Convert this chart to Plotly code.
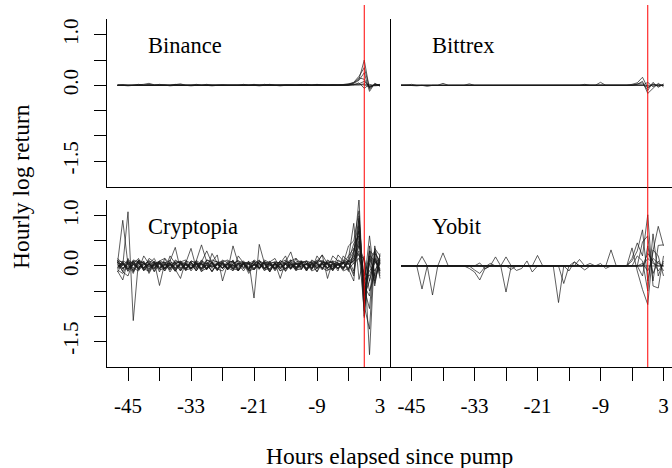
import plotly.graph_objects as go

# ---------------- data ----------------
hours = [-47, -46, -45, -44, -43, -42, -41, -40, -39, -38,
         -37, -36, -35, -34, -33, -32, -31, -30, -29, -28,
         -27, -26, -25, -24, -23, -22, -21, -20, -19, -18,
         -17, -16, -15, -14, -13, -12, -11, -10, -9, -8,
         -7, -6, -5, -4, -3, -2, -1, 0, 1, 2, 3]

x_tick_vals = [-45, -39, -33, -27, -21, -15, -9, -3, 3]
x_tick_text = ["-45", "", "-33", "", "-21", "", "-9", "", "3"]
y_tick_vals = [-1.5, -1.0, -0.5, 0.0, 0.5, 1.0]
y_tick_text = ["-1.5", "", "", "0.0", "", "1.0"]

pump_hour = [0]

binance = [
    [0.00, 0.01, 0.00, 0.00, 0.01, 0.02, 0.04, 0.01, 0.00, 0.00,
     0.00, 0.01, 0.03, 0.00, -0.01, 0.00, 0.00, 0.01, 0.00, 0.00,
     0.00, 0.01, 0.00, 0.00, 0.02, 0.00, 0.00, -0.01, 0.00, 0.00,
     0.01, 0.00, 0.00, 0.00, 0.01, 0.00, 0.00, 0.00, 0.02, 0.00,
     0.00, 0.01, 0.00, 0.02, 0.03, 0.05, 0.12, 0.50, -0.08, 0.03, 0.00],
    [0.01, 0.00, -0.01, 0.00, 0.00, 0.01, 0.00, 0.00, 0.02, 0.00,
     -0.01, 0.00, 0.01, 0.00, 0.00, 0.02, 0.00, 0.00, -0.01, 0.00,
     0.01, 0.00, 0.00, 0.01, 0.00, 0.00, 0.02, 0.00, 0.00, 0.01,
     0.00, -0.01, 0.00, 0.01, 0.00, 0.00, 0.02, 0.00, 0.00, 0.01,
     0.00, 0.00, 0.01, 0.00, 0.02, 0.06, 0.18, 0.35, -0.05, 0.02, 0.01],
    [0.00, 0.00, 0.01, 0.00, 0.00, 0.00, 0.02, 0.00, 0.00, 0.01,
     0.00, 0.00, 0.00, 0.01, 0.00, 0.00, 0.00, 0.02, 0.00, 0.00,
     0.00, 0.00, 0.01, 0.00, 0.00, 0.01, 0.00, 0.00, 0.00, 0.02,
     0.00, 0.00, 0.01, 0.00, 0.00, 0.00, 0.01, 0.00, 0.00, 0.00,
     0.01, 0.00, 0.00, 0.01, 0.00, 0.04, 0.10, 0.25, -0.12, 0.04, -0.02],
    [0.00, 0.01, 0.00, 0.00, 0.02, 0.00, 0.00, 0.00, 0.01, 0.00,
     0.00, 0.02, 0.00, 0.00, 0.00, 0.01, 0.00, 0.00, 0.01, 0.00,
     0.00, 0.00, 0.01, 0.00, 0.00, 0.00, 0.01, 0.00, 0.02, 0.00,
     0.00, 0.00, 0.01, 0.00, 0.00, 0.02, 0.00, 0.00, 0.01, 0.00,
     0.00, 0.00, 0.00, 0.01, 0.01, 0.05, 0.15, 0.12, -0.04, 0.00, 0.02],
    [0.00, 0.00, 0.00, 0.01, 0.00, 0.00, 0.00, 0.00, 0.00, 0.01,
     0.00, 0.00, 0.00, 0.00, 0.01, 0.00, 0.00, 0.00, 0.00, 0.00,
     0.01, 0.00, 0.00, 0.00, 0.00, 0.00, 0.00, 0.01, 0.00, 0.00,
     0.00, 0.00, 0.00, 0.00, 0.01, 0.00, 0.00, 0.00, 0.00, 0.00,
     0.00, 0.01, 0.00, 0.00, 0.00, 0.02, 0.03, 0.08, -0.02, 0.01, 0.00],
    [0.00, 0.00, 0.00, 0.00, 0.00, 0.00, 0.00, 0.00, 0.00, 0.00,
     0.00, 0.00, 0.00, 0.00, 0.00, 0.00, 0.00, 0.00, 0.00, 0.00,
     0.00, 0.00, 0.00, 0.00, 0.00, 0.00, 0.00, 0.00, 0.00, 0.00,
     0.00, 0.00, 0.00, 0.00, 0.00, 0.00, 0.00, 0.00, 0.00, 0.00,
     0.00, 0.00, 0.00, 0.00, 0.00, 0.01, 0.05, -0.06, 0.02, -0.01, 0.00],
    [0.00, 0.00, 0.00, 0.00, 0.00, 0.00, 0.00, 0.00, 0.00, 0.00,
     0.00, 0.00, 0.00, 0.00, 0.00, 0.00, 0.00, 0.00, 0.00, 0.00,
     0.00, 0.00, 0.00, 0.00, 0.00, 0.00, 0.00, 0.00, 0.00, 0.00,
     0.00, 0.00, 0.00, 0.00, 0.00, 0.00, 0.00, 0.00, 0.00, 0.00,
     0.00, 0.00, 0.00, 0.00, 0.00, 0.00, 0.01, 0.03, 0.00, 0.00, 0.00],
    [0.00, 0.00, 0.00, 0.00, 0.00, 0.00, 0.00, 0.00, 0.00, 0.00,
     0.00, 0.00, 0.00, 0.00, 0.00, 0.00, 0.00, 0.00, 0.00, 0.00,
     0.00, 0.00, 0.00, 0.00, 0.00, 0.00, 0.00, 0.00, 0.00, 0.00,
     0.00, 0.00, 0.00, 0.00, 0.00, 0.00, 0.00, 0.00, 0.00, 0.00,
     0.00, 0.00, 0.00, 0.00, 0.00, 0.00, 0.00, 0.01, -0.03, 0.01, 0.00],
]

bittrex = [
    [0.00, 0.00, 0.02, 0.00, 0.00, -0.02, 0.00, 0.00, 0.04, 0.00,
     0.00, 0.00, 0.00, 0.03, 0.00, 0.00, 0.00, 0.00, 0.00, 0.01,
     0.00, 0.00, 0.00, 0.00, 0.00, 0.00, 0.01, 0.00, 0.00, 0.00,
     0.00, 0.00, 0.00, 0.00, 0.00, 0.02, 0.00, 0.00, 0.06, 0.00,
     0.00, 0.00, 0.00, 0.00, 0.02, 0.05, 0.16, -0.05, 0.03, -0.02, 0.01],
    [0.01, 0.00, 0.00, -0.01, 0.00, 0.00, 0.01, 0.00, 0.00, 0.00,
     0.01, 0.00, 0.00, 0.00, 0.00, 0.01, 0.00, 0.00, 0.00, 0.00,
     0.00, 0.01, 0.00, 0.00, 0.00, 0.00, 0.00, 0.00, 0.01, 0.00,
     0.00, 0.00, 0.00, 0.01, 0.00, 0.00, 0.00, 0.00, 0.00, 0.01,
     0.00, 0.00, 0.00, 0.01, 0.00, 0.02, 0.08, -0.16, -0.05, 0.04, -0.03],
    [0.00, 0.01, 0.00, 0.00, 0.00, 0.00, 0.00, 0.01, 0.00, 0.00,
     0.00, 0.00, 0.00, 0.00, 0.01, 0.00, 0.00, 0.00, 0.00, 0.00,
     0.00, 0.00, 0.01, 0.00, 0.00, 0.00, 0.00, 0.00, 0.00, 0.00,
     0.01, 0.00, 0.00, 0.00, 0.00, 0.00, 0.00, 0.00, 0.00, 0.00,
     0.00, 0.01, 0.00, 0.00, 0.00, 0.03, 0.05, -0.10, 0.06, -0.04, 0.03],
    [0.00, 0.00, 0.00, 0.00, 0.00, 0.00, 0.00, 0.00, 0.00, 0.00,
     0.00, 0.00, 0.00, 0.00, 0.00, 0.00, 0.00, 0.00, 0.00, 0.00,
     0.00, 0.00, 0.00, 0.00, 0.00, 0.00, 0.00, 0.00, 0.00, 0.00,
     0.00, 0.00, 0.00, 0.00, 0.00, 0.00, 0.00, 0.00, 0.00, 0.00,
     0.00, 0.00, 0.00, 0.00, 0.00, 0.00, 0.00, 0.06, -0.03, 0.02, 0.00],
    [0.00, 0.00, 0.00, 0.00, 0.00, 0.00, 0.00, 0.00, 0.00, 0.00,
     0.00, 0.00, 0.00, 0.00, 0.00, 0.00, 0.00, 0.00, 0.00, 0.00,
     0.00, 0.00, 0.00, 0.00, 0.00, 0.00, 0.00, 0.00, 0.00, 0.00,
     0.00, 0.00, 0.00, 0.00, 0.00, 0.00, 0.00, 0.00, 0.00, 0.00,
     0.00, 0.00, 0.00, 0.00, 0.00, 0.00, 0.01, -0.04, 0.02, 0.00, 0.00],
    [0.00, 0.00, 0.00, 0.00, 0.00, 0.00, 0.00, 0.00, 0.00, 0.00,
     0.00, 0.00, 0.00, 0.00, 0.00, 0.00, 0.00, 0.00, 0.00, 0.00,
     0.00, 0.00, 0.00, 0.00, 0.00, 0.00, 0.00, 0.00, 0.00, 0.00,
     0.00, 0.00, 0.00, 0.00, 0.00, 0.00, 0.00, 0.00, 0.00, 0.00,
     0.00, 0.00, 0.00, 0.00, 0.00, 0.00, 0.00, 0.00, 0.00, 0.00, 0.00],
]

cryptopia = [
    [0.05, 0.91, 0.02, -0.08, 0.06, -0.04, 0.03, 0.08, -0.05, 0.02,
     0.06, -0.03, 0.04, -0.06, 0.05, 0.02, -0.04, 0.07, -0.02, 0.03,
     -0.05, 0.04, 0.02, -0.03, 0.06, -0.04, 0.03, 0.05, -0.06, 0.02,
     0.04, -0.03, 0.05, -0.02, 0.03, 0.06, -0.04, 0.02, 0.05, -0.03,
     0.04, 0.02, -0.05, 0.06, 0.10, 0.30, 0.70, -0.60, -0.30, 0.15, -0.08],
    [0.10, 0.00, 1.08, -1.09, 0.10, 0.05, -0.06, 0.03, 0.08, -0.04,
     0.02, 0.07, -0.05, 0.04, -0.03, 0.06, 0.02, -0.07, 0.05, 0.03,
     -0.04, 0.06, -0.02, 0.05, 0.03, -0.06, 0.04, -0.03, 0.07, 0.02,
     -0.05, 0.03, 0.06, -0.04, 0.05, -0.02, 0.04, 0.07, -0.03, 0.05,
     -0.04, 0.06, 0.03, -0.05, 0.08, 0.20, 1.35, -1.03, 0.30, -0.20, 0.10],
    [-0.10, -0.28, 0.12, 0.05, -0.08, 0.20, 0.04, -0.06, 0.10, 0.15,
     -0.05, 0.08, -0.10, 0.06, 0.35, -0.04, 0.12, -0.06, 0.08, 0.22,
     -0.30, 0.05, 0.10, -0.08, 0.06, -0.15, 0.04, 0.12, -0.05, 0.08,
     0.15, -0.06, 0.10, 0.04, -0.08, 0.06, 0.10, -0.05, 0.08, 0.22,
     -0.25, 0.10, 0.06, -0.04, 0.15, 0.85, -0.27, 0.20, -1.77, 0.35, 0.20],
    [0.08, -0.12, -0.20, 0.10, 0.06, -0.05, 0.15, 0.08, -0.39, 0.06,
     0.10, 0.37, -0.08, 0.05, -0.06, 0.10, 0.42, 0.08, -0.05, 0.06,
     0.10, -0.08, 0.40, 0.05, -0.06, 0.10, -0.64, 0.43, 0.05, -0.08,
     0.06, -0.25, 0.08, 0.28, -0.05, 0.06, 0.10, -0.08, 0.20, 0.05,
     -0.06, 0.20, 0.10, 0.05, 0.40, 0.50, 1.10, -0.80, -1.26, 0.40, -0.15],
    [0.15, 0.05, -0.10, 0.08, -0.06, 0.10, -0.12, 0.05, 0.08, -0.05,
     0.12, -0.08, -0.25, 0.10, 0.06, -0.10, 0.08, 0.30, 0.05, -0.08,
     0.12, 0.06, -0.10, 0.20, 0.05, -0.08, 0.10, -0.05, 0.12, 0.06,
     -0.10, 0.05, 0.20, -0.06, 0.15, 0.05, -0.08, 0.10, 0.06, 0.22,
     0.05, -0.08, 0.22, 0.10, -0.06, -0.30, 0.90, -0.40, -0.60, 0.25, 0.10],
    [-0.05, 0.10, 0.05, -0.15, 0.12, -0.08, 0.06, -0.10, 0.05, 0.08,
     -0.12, 0.05, 0.10, -0.06, 0.08, -0.10, 0.05, -0.08, 0.25, 0.06,
     -0.05, 0.10, 0.08, -0.10, 0.06, 0.05, -0.08, 0.10, -0.06, 0.05,
     0.08, -0.10, 0.05, 0.12, -0.06, 0.08, -0.10, 0.05, 0.10, -0.06,
     0.12, 0.05, -0.10, 0.20, 0.08, 0.15, 0.50, -0.20, 0.20, -0.40, 0.25],
    [0.02, -0.06, 0.08, 0.04, -0.03, 0.05, -0.02, 0.06, -0.04, 0.03,
     0.05, -0.06, 0.02, 0.04, -0.05, 0.03, 0.06, -0.03, 0.02, -0.05,
     0.04, 0.02, -0.06, 0.05, -0.02, 0.03, 0.06, -0.04, 0.02, 0.05,
     -0.03, 0.04, -0.06, 0.02, 0.05, -0.03, 0.04, 0.02, -0.05, 0.03,
     0.05, -0.02, 0.04, 0.06, 0.03, 0.10, 0.30, -0.90, 0.10, 0.30, -0.25],
    [-0.12, 0.06, -0.08, 0.10, -0.05, 0.04, 0.08, -0.12, 0.05, -0.06,
     0.08, 0.04, -0.10, 0.06, -0.05, 0.08, -0.12, 0.05, 0.06, -0.08,
     0.05, -0.06, 0.08, 0.04, -0.10, 0.06, -0.05, 0.08, 0.04, -0.12,
     0.06, -0.05, 0.04, 0.08, -0.06, 0.05, -0.10, 0.06, 0.04, -0.05,
     0.08, -0.06, 0.05, -0.08, 0.12, -0.10, 0.60, -0.50, 0.05, -0.30, 0.08],
    [0.06, 0.04, -0.05, 0.12, 0.08, -0.10, 0.05, 0.15, -0.06, 0.08,
     -0.05, 0.10, 0.06, -0.08, 0.10, 0.05, -0.06, 0.12, 0.08, -0.05,
     0.06, -0.08, 0.05, 0.10, 0.06, -0.05, 0.08, 0.06, -0.10, 0.05,
     0.08, 0.06, -0.05, 0.10, 0.15, -0.06, 0.05, 0.08, -0.05, 0.10,
     0.06, 0.08, -0.05, 0.05, 0.20, 0.35, 0.20, 0.15, -0.30, 0.10, -0.10],
    [-0.08, -0.15, 0.06, -0.05, 0.10, -0.06, -0.10, 0.05, -0.08, -0.05,
     0.06, -0.10, 0.05, -0.08, -0.05, 0.06, -0.10, -0.05, 0.08, -0.06,
     -0.10, 0.05, -0.06, -0.08, 0.05, -0.10, -0.06, 0.05, -0.08, -0.05,
     0.06, -0.10, -0.05, 0.05, -0.08, -0.06, 0.05, -0.10, -0.05, 0.06,
     -0.08, -0.05, 0.06, -0.10, -0.05, 0.05, 0.80, -0.70, 0.20, 0.10, -0.05],
    [0.10, 0.08, -0.06, 0.05, 0.15, -0.05, 0.10, 0.06, 0.05, -0.10,
     0.20, 0.05, 0.08, -0.05, 0.10, 0.06, -0.08, 0.05, 0.12, 0.08,
     -0.05, 0.06, 0.10, -0.06, 0.08, 0.05, 0.10, -0.05, 0.06, 0.08,
     -0.06, 0.10, 0.05, 0.08, -0.05, 0.10, 0.06, -0.05, 0.12, 0.08,
     0.05, 0.10, -0.06, 0.08, 0.05, -0.15, 0.45, -0.30, -0.10, 0.05, 0.15],
    [0.00, 0.03, -0.02, 0.02, 0.00, -0.03, 0.02, 0.01, -0.02, 0.03,
     0.00, 0.02, -0.03, 0.01, 0.02, -0.02, 0.03, 0.00, -0.02, 0.02,
     0.01, -0.03, 0.02, 0.00, 0.03, -0.02, 0.01, 0.02, -0.03, 0.00,
     0.02, -0.02, 0.03, 0.01, -0.02, 0.00, 0.03, -0.02, 0.01, 0.02,
     -0.03, 0.00, 0.02, -0.02, 0.05, 0.10, 0.25, -0.35, 0.60, -0.25, 0.05],
    [0.04, -0.10, 0.15, -0.12, 0.06, 0.08, -0.15, 0.04, 0.10, 0.06,
     -0.08, 0.12, 0.05, -0.10, 0.08, -0.06, 0.10, 0.05, -0.12, 0.06,
     0.08, -0.05, 0.12, -0.10, 0.05, 0.08, -0.06, 0.10, 0.05, -0.12,
     0.08, 0.06, -0.10, 0.12, 0.05, -0.08, 0.10, 0.06, -0.12, 0.08,
     0.05, -0.10, 0.12, 0.06, -0.08, 0.25, 0.70, -1.00, 0.30, 0.20, -0.20],
    [-0.02, 0.05, -0.06, 0.03, -0.04, 0.06, -0.03, 0.02, 0.05, -0.04,
     0.03, -0.05, 0.06, 0.02, -0.04, 0.03, 0.05, -0.06, 0.02, 0.04,
     -0.03, 0.05, -0.04, 0.06, 0.02, -0.05, 0.03, -0.04, 0.05, 0.02,
     -0.06, 0.04, 0.03, -0.05, 0.06, 0.02, -0.04, 0.05, -0.03, 0.04,
     0.02, -0.05, 0.03, 0.05, -0.04, 0.15, 0.40, 0.10, -0.50, -0.15, 0.20],
    [0.12, -0.06, 0.08, -0.10, 0.12, 0.06, -0.08, 0.10, -0.12, 0.15,
     0.05, -0.10, 0.08, 0.12, -0.06, 0.10, -0.05, 0.12, 0.06, -0.10,
     0.08, 0.12, -0.06, 0.05, 0.10, -0.08, 0.12, 0.05, -0.06, 0.10,
     -0.08, 0.06, 0.12, -0.05, 0.08, 0.10, -0.06, 0.12, 0.05, -0.08,
     0.10, 0.06, -0.05, 0.12, 0.06, -0.20, 1.00, -0.60, 0.15, -0.10, 0.12],
    [-0.06, 0.02, 0.10, -0.04, -0.10, 0.05, 0.02, -0.06, 0.04, -0.10,
     0.05, -0.04, 0.02, 0.08, -0.10, 0.04, -0.06, 0.02, -0.10, 0.05,
     0.04, -0.06, 0.02, -0.10, 0.05, 0.04, -0.08, 0.02, 0.06, -0.10,
     0.04, 0.02, -0.06, 0.05, -0.10, 0.04, 0.02, -0.06, 0.05, -0.04,
     -0.10, 0.04, 0.02, -0.06, 0.10, 0.05, 0.15, -0.15, -0.20, 0.15, -0.10],
    [0.07, -0.04, 0.03, 0.09, -0.07, 0.03, 0.11, -0.04, 0.07, 0.02,
     -0.07, 0.04, 0.09, 0.03, -0.07, 0.11, 0.03, -0.04, 0.07, 0.09,
     0.03, -0.07, 0.04, 0.11, -0.04, 0.07, 0.03, -0.07, 0.09, 0.04,
     -0.04, 0.11, 0.03, -0.07, 0.04, 0.09, 0.03, -0.04, 0.07, 0.11,
     -0.04, 0.03, 0.07, -0.04, 0.09, 0.45, 0.60, -0.45, -0.85, 0.30, 0.05],
    [-0.04, 0.08, -0.11, 0.03, 0.07, -0.09, 0.04, -0.03, 0.09, -0.07,
     0.03, -0.11, 0.07, -0.04, 0.03, -0.09, 0.07, 0.04, -0.11, 0.03,
     0.07, -0.04, -0.09, 0.03, 0.07, -0.11, 0.04, -0.03, 0.09, -0.07,
     0.03, 0.07, -0.11, 0.04, -0.03, 0.09, -0.07, 0.03, -0.11, 0.07,
     0.04, -0.09, 0.03, 0.07, -0.11, 0.30, 0.95, -0.75, 0.40, -0.35, 0.15],
]

yobit = [
    [0.00, 0.00, 0.00, 0.00, 0.19, 0.00, 0.00, 0.00, 0.26, 0.00,
     0.00, 0.00, 0.00, 0.00, 0.00, 0.00, 0.00, 0.00, 0.00, 0.00,
     -0.52, 0.00, 0.00, 0.00, 0.00, 0.00, 0.21, 0.00, 0.00, 0.00,
     0.00, 0.00, 0.00, 0.00, 0.00, 0.00, 0.00, 0.00, 0.00, 0.00,
     0.32, 0.00, 0.00, 0.00, 0.10, 0.30, 0.72, -0.30, 0.30, 0.79, 0.40],
    [0.00, 0.00, 0.00, 0.00, -0.46, 0.00, 0.00, 0.00, 0.00, 0.00,
     0.00, 0.00, 0.00, 0.00, 0.00, 0.00, 0.00, 0.00, 0.18, 0.00,
     0.00, 0.00, 0.00, 0.00, 0.00, 0.00, 0.00, 0.00, 0.00, 0.00,
     -0.73, 0.00, 0.00, 0.08, 0.00, 0.00, 0.00, 0.00, 0.00, 0.00,
     0.00, 0.00, 0.00, 0.00, 0.15, 0.46, 0.20, 1.02, -0.40, -0.44, 0.20],
    [0.00, 0.00, 0.00, 0.00, 0.00, 0.00, -0.58, 0.00, 0.00, 0.00,
     0.00, 0.00, 0.00, 0.00, 0.00, 0.00, 0.00, 0.00, 0.00, 0.00,
     0.18, 0.00, 0.00, 0.00, 0.00, 0.00, 0.00, 0.00, 0.00, 0.00,
     0.00, -0.35, 0.00, 0.00, 0.13, 0.00, 0.00, 0.00, 0.00, 0.00,
     0.00, 0.00, 0.00, 0.00, 0.36, -0.10, -0.47, -0.77, 0.32, 0.20, -0.20],
    [0.00, 0.00, 0.00, 0.00, 0.00, 0.00, 0.00, 0.00, 0.00, 0.00,
     0.00, 0.00, 0.00, -0.05, -0.12, -0.28, -0.05, 0.00, 0.00, 0.00,
     0.00, 0.00, -0.09, -0.05, 0.10, -0.12, 0.00, 0.00, 0.00, 0.00,
     0.00, 0.00, 0.00, 0.00, 0.00, -0.08, 0.00, 0.00, 0.00, 0.00,
     0.00, 0.00, 0.00, 0.00, 0.00, 0.00, 0.48, 0.60, -0.30, 0.41, 0.42],
    [0.00, 0.00, 0.00, 0.00, 0.00, 0.00, 0.00, 0.00, 0.00, 0.00,
     0.00, 0.00, 0.00, 0.00, -0.08, -0.15, -0.02, 0.05, 0.00, 0.00,
     0.00, 0.00, 0.00, 0.00, 0.00, 0.00, 0.00, 0.00, 0.00, 0.00,
     0.00, 0.00, -0.10, 0.08, 0.00, 0.00, 0.05, 0.00, 0.00, 0.00,
     0.00, 0.00, 0.00, 0.00, 0.00, 0.20, 0.10, -0.50, 0.64, -0.20, 0.10],
    [0.00, 0.00, 0.00, 0.00, 0.00, 0.00, 0.00, 0.00, 0.00, 0.00,
     0.00, 0.00, 0.00, 0.00, 0.00, 0.06, -0.06, 0.00, 0.00, 0.00,
     0.00, -0.07, 0.00, 0.00, 0.00, 0.00, 0.00, 0.00, 0.00, 0.00,
     0.00, 0.00, 0.00, 0.00, 0.00, 0.00, 0.00, 0.00, 0.00, 0.00,
     0.00, 0.00, 0.00, 0.00, 0.00, 0.00, -0.20, 0.40, -0.15, 0.10, -0.10],
    [0.00, 0.00, 0.00, 0.00, 0.00, 0.00, 0.00, 0.00, 0.00, 0.00,
     0.00, 0.00, 0.00, 0.00, 0.00, 0.00, 0.00, 0.00, 0.00, 0.00,
     0.00, 0.00, 0.00, 0.00, 0.00, 0.00, 0.00, 0.00, 0.00, 0.00,
     0.00, 0.00, 0.00, 0.00, 0.00, 0.00, 0.00, 0.00, 0.05, -0.05,
     0.00, 0.00, 0.00, 0.00, 0.00, 0.00, 0.00, 0.25, 0.10, -0.10, 0.05],
    [0.00, 0.00, 0.00, 0.00, 0.00, 0.00, 0.00, 0.00, 0.00, 0.00,
     0.00, 0.00, 0.00, 0.00, 0.00, 0.00, 0.00, 0.00, 0.00, 0.00,
     0.00, 0.00, 0.00, 0.00, 0.00, 0.00, 0.00, 0.00, 0.00, 0.00,
     0.00, 0.00, 0.00, 0.00, 0.00, 0.00, 0.00, 0.00, 0.00, 0.00,
     0.00, 0.00, 0.00, 0.00, 0.00, 0.00, 0.05, -0.10, 0.15, 0.05, 0.00],
    [0.00, 0.00, 0.00, 0.00, 0.00, 0.00, 0.00, 0.00, 0.00, 0.00,
     0.00, 0.00, 0.00, 0.00, 0.00, 0.00, 0.00, 0.00, 0.00, 0.00,
     0.00, 0.00, 0.00, 0.00, 0.00, 0.00, 0.00, 0.00, 0.00, 0.00,
     0.00, 0.00, 0.00, 0.00, 0.00, 0.00, 0.00, 0.00, 0.00, 0.00,
     0.00, 0.00, 0.00, 0.00, 0.00, 0.00, 0.00, 0.15, 0.05, 0.00, 0.00],
    [0.00, 0.00, 0.00, 0.00, 0.00, 0.00, 0.00, 0.00, 0.00, 0.00,
     0.00, 0.00, 0.00, 0.00, 0.00, 0.00, 0.00, 0.00, 0.00, 0.00,
     0.00, 0.00, 0.00, 0.00, 0.00, 0.00, 0.00, 0.00, 0.00, 0.00,
     0.00, 0.00, 0.00, 0.00, 0.00, 0.00, 0.00, 0.00, 0.00, 0.00,
     0.00, 0.00, 0.00, 0.00, 0.00, 0.00, 0.00, 0.00, 0.00, 0.00, 0.00],
]

exchanges = ["Binance", "Bittrex", "Cryptopia", "Yobit"]
panel_data = [binance, bittrex, cryptopia, yobit]

# ---------------- layout geometry (pixels) ----------------
W, H = 672, 468
FONT = "Liberation Serif"
LINE_COLOR = "rgba(25,25,25,0.82)"

x_left = [107 / W, 390.5 / W]
x_right = [390.5 / W, 1.0]
y_top = [1 - 187 / H, 1 - 19 / H]
y_bot = [1 - 367 / H, 1 - 200 / H]
x_range_left = [-49, 5]
x_range_right = [-49, 4.62]
y_range = [-2.015, 1.315]

axes = [("x", "y"), ("x2", "y2"), ("x3", "y3"), ("x4", "y4")]

fig = go.Figure()
for (xa, ya), series_list in zip(axes, panel_data):
    for s in series_list:
        fig.add_trace(go.Scatter(
            x=hours, y=s, mode="lines", xaxis=xa, yaxis=ya,
            line=dict(color=LINE_COLOR, width=0.85),
            showlegend=False, hoverinfo="skip"))

axis_common = dict(showgrid=False, zeroline=False, showline=True,
                   linecolor="black", linewidth=1, automargin=False,
                   tickfont=dict(family=FONT, size=21, color="black"))

def xaxis(domain, rng, anchor, labels):
    d = dict(axis_common, domain=domain, range=rng, anchor=anchor)
    if labels:
        d.update(ticks="outside", ticklen=13, tickwidth=1, tickcolor="black",
                 tickmode="array", tickvals=x_tick_vals, ticktext=x_tick_text,
                 ticklabelstandoff=7)
    else:
        d.update(ticks="", showticklabels=False)
    return d

def yaxis(domain, anchor, labels):
    d = dict(axis_common, domain=domain, range=y_range, anchor=anchor)
    if labels:
        d.update(ticks="outside", ticklen=12, tickwidth=1, tickcolor="black",
                 tickmode="array", tickvals=y_tick_vals, ticktext=y_tick_text,
                 tickangle=-90, ticklabelstandoff=8)
    else:
        d.update(ticks="", showticklabels=False)
    return d

fig.update_layout(
    width=W, height=H,
    margin=dict(l=0, r=0, t=0, b=0),
    paper_bgcolor="white", plot_bgcolor="white",
    font=dict(family=FONT, size=21, color="black"),
    xaxis=xaxis(x_left, x_range_left, "y", False),
    xaxis2=xaxis(x_right, x_range_right, "y2", False),
    xaxis3=xaxis(x_left, x_range_left, "y3", True),
    xaxis4=xaxis(x_right, x_range_right, "y4", True),
    yaxis=yaxis(y_top, "x", True),
    yaxis2=yaxis(y_top, "x2", False),
    yaxis3=yaxis(y_bot, "x3", True),
    yaxis4=yaxis(y_bot, "x4", False),
)

# red vertical line at the pump hour, spanning both rows
for xr in ["x", "x2"]:
    for h in pump_hour:
        fig.add_shape(type="line", xref=xr, yref="paper",
                      x0=h, x1=h, y0=1 - 367 / H, y1=1 - 5 / H,
                      line=dict(color="red", width=1), layer="above")

# panel labels
label_pos = [(146 / W, 1 - 46 / H), (430 / W, 1 - 46 / H),
             (146 / W, 1 - 226 / H), (430 / W, 1 - 226 / H)]
for name, (px, py) in zip(exchanges, label_pos):
    fig.add_annotation(text=name, x=px, y=py, xref="paper", yref="paper",
                       xanchor="left", yanchor="middle", showarrow=False,
                       font=dict(family=FONT, size=22.5, color="black"))

fig.add_annotation(text="Hours elapsed since pump", x=389 / W, y=1 - 456 / H,
                   xref="paper", yref="paper", xanchor="center",
                   yanchor="middle", showarrow=False,
                   font=dict(family=FONT, size=23.5, color="black"))
fig.add_annotation(text="Hourly log return", x=21 / W, y=1 - 187 / H,
                   xref="paper", yref="paper", xanchor="center",
                   yanchor="middle", textangle=-90, showarrow=False,
                   font=dict(family=FONT, size=23.5, color="black"))

fig.write_html("out.html",
               config={"displayModeBar": False},
               post_script="document.body.style.margin='0';"
                           "document.body.style.overflow='hidden';")
